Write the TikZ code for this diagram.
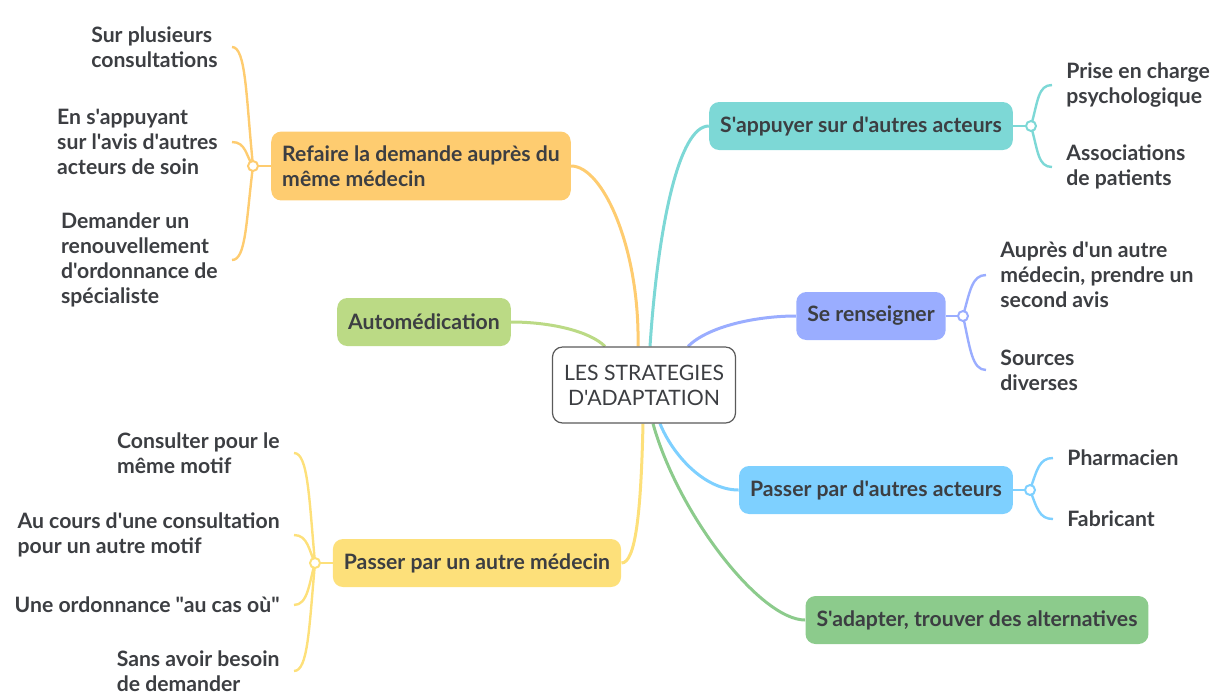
\documentclass[tikz,border=0pt]{standalone}
\usepackage{fontspec}
\setmainfont{Lato}[Ligatures=TeXOff]
\usetikzlibrary{backgrounds}
\definecolor{inkgray}{RGB}{60,62,66}
\definecolor{coregray}{RGB}{90,90,90}
\definecolor{refaireorange}{RGB}{254,204,112}
\definecolor{automedgreen}{RGB}{187,218,133}
\definecolor{autremedyellow}{RGB}{253,224,122}
\definecolor{appuiteal}{RGB}{125,216,214}
\definecolor{renseignblue}{RGB}{154,173,255}
\definecolor{acteursblue}{RGB}{126,208,255}
\definecolor{adaptgreen}{RGB}{140,203,140}

\begin{document}
\fontsize{10.6pt}{12.5pt}\selectfont
\begin{tikzpicture}[x=0.5pt, y=-0.5pt,
    topic/.style={rounded corners=5pt, fill=#1, inner xsep=5.5pt, inner ysep=7pt,
        minimum height=24pt, align=left, font=\bfseries, text=inkgray},
    leaf/.style={inner xsep=7pt, inner ysep=1pt, align=left, font=\bfseries, text=inkgray},
    hub/.style={circle, draw=#1, fill=white, line width=1pt, minimum size=5pt, inner sep=0pt},
    branch/.style={draw=#1, line width=1.5pt},
    twig/.style={draw=#1, line width=1.2pt}]
    \useasboundingbox (0,0) rectangle (1211,693);

    % Central topic
    \node[draw=coregray, rounded corners=5pt, line width=0.6pt, fill=white,
        minimum width=91.5pt, minimum height=38pt, align=center, text=inkgray]
        (core) at (644,385) {LES STRATEGIES\\D'ADAPTATION};

    % Main topics
    \node[topic=refaireorange] (refaire) at (421,166) {Refaire la demande auprès du\\même médecin};
    \node[topic=automedgreen] (automed) at (424,322) {Automédication};
    \node[topic=autremedyellow] (autremed) at (477,563) {Passer par un autre médecin};
    \node[topic=appuiteal] (appui) at (861,126) {S'appuyer sur d'autres acteurs};
    \node[topic=renseignblue] (renseign) at (871,316) {Se renseigner};
    \node[topic=acteursblue] (acteurs) at (876,490) {Passer par d'autres acteurs};
    \node[topic=adaptgreen] (adapt) at (977,620) {S'adapter, trouver des alternatives};

    % Junctions
    \node[hub=refaireorange] (jrefaire) at (253,166) {};
    \node[hub=autremedyellow] (jautremed) at (315,563) {};
    \node[hub=appuiteal] (jappui) at (1031,126) {};
    \node[hub=renseignblue] (jrenseign) at (963,316) {};
    \node[hub=acteursblue] (jacteurs) at (1030,490) {};

    % Leaves, left side
    \node[leaf, anchor=east] (plusieurs) at (232,47) {Sur plusieurs\\consultations};
    \node[leaf, anchor=east] (avis) at (232,142) {En s'appuyant\\sur l'avis d'autres\\acteurs de soin};
    \node[leaf, anchor=east] (renouvel) at (232,260) {Demander un\\renouvellement\\d'ordonnance de\\spécialiste};
    \node[leaf, anchor=east] (memotif) at (294,453) {Consulter pour le\\même motif};
    \node[leaf, anchor=east] (autremotif) at (294,535) {Au cours d'une consultation\\pour un autre motif};
    \node[leaf, anchor=east] (aucasou) at (294,605) {Une ordonnance "au cas où"};
    \node[leaf, anchor=east] (sansbesoin) at (294,671) {Sans avoir besoin\\de demander};

    % Leaves, right side
    \node[leaf, anchor=west] (psycho) at (1052,85) {Prise en charge\\psychologique};
    \node[leaf, anchor=west] (assoc) at (1052,167) {Associations\\de patients};
    \node[leaf, anchor=west] (secondavis) at (986,275) {Auprès d'un autre\\médecin, prendre un\\second avis};
    \node[leaf, anchor=west] (sources) at (986,370) {Sources\\diverses};
    \node[leaf, anchor=west] (pharma) at (1053,458) {Pharmacien};
    \node[leaf, anchor=west] (fabric) at (1053,519) {Fabricant};

    \begin{scope}[on background layer]
        % Branches from the centre
        \draw[branch=refaireorange] ([xshift=-3pt]core.north) .. controls +(2,-97) and +(32,0) .. (refaire.east);
        \draw[branch=appuiteal] ([xshift=3pt]core.north) .. controls +(8,-120) and +(-30,0) .. (appui.west);
        \draw[branch=renseignblue] ([xshift=22pt]core.north) .. controls +(20,-20) and +(-40,0) .. (renseign.west);
        \draw[branch=automedgreen] ([xshift=-19.5pt]core.north) .. controls +(-15,-15) and +(40,0) .. (automed.east);
        \draw[branch=autremedyellow] ([xshift=-0.5pt]core.south) .. controls +(-2,90) and +(14,0) .. (autremed.east);
        \draw[branch=acteursblue] ([xshift=8pt]core.south) .. controls +(12,30) and +(-35,0) .. (acteurs.west);
        \draw[branch=adaptgreen] ([xshift=4.5pt]core.south) .. controls +(25,90) and +(-45,0) .. (adapt.west);

        % Topic to junction
        \draw[twig=refaireorange] (refaire.west) -- (jrefaire);
        \draw[twig=autremedyellow] (autremed.west) -- (jautremed);
        \draw[twig=appuiteal] (appui.east) -- (jappui);
        \draw[twig=renseignblue] (renseign.east) -- (jrenseign);
        \draw[twig=acteursblue] (acteurs.east) -- (jacteurs);

        % Junction to leaves
        \foreach \leaf/\dy in {plusieurs/-70, avis/-10, renouvel/56}
            \draw[twig=refaireorange] (jrefaire.center) .. controls +(-7,\dy) and +(14,0) .. (\leaf.east);
        \foreach \leaf/\dy in {memotif/-66, autremotif/-12, aucasou/20, sansbesoin/66}
            \draw[twig=autremedyellow] (jautremed.center) .. controls +(-6,\dy) and +(14,0) .. (\leaf.east);
        \foreach \leaf/\dy in {psycho/-25, assoc/25}
            \draw[twig=appuiteal] (jappui.center) .. controls +(7,\dy) and +(-14,0) .. (\leaf.west);
        \foreach \leaf/\dy in {secondavis/-25, sources/32}
            \draw[twig=renseignblue] (jrenseign.center) .. controls +(7,\dy) and +(-14,0) .. (\leaf.west);
        \foreach \leaf/\dy in {pharma/-20, fabric/18}
            \draw[twig=acteursblue] (jacteurs.center) .. controls +(7,\dy) and +(-14,0) .. (\leaf.west);
    \end{scope}
\end{tikzpicture}
\end{document}
